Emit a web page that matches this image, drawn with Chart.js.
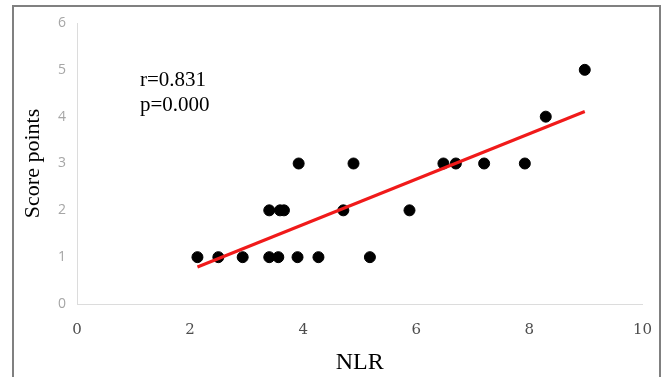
<!DOCTYPE html>
<html>
<head>
<meta charset="utf-8">
<script src="https://cdn.jsdelivr.net/npm/chart.js@4.4.1/dist/chart.umd.min.js"></script>
<style>
    body { margin: 0; background: #fff; }
    #wrap { position: relative; width: 661px; height: 377px; }
    #frame { position: absolute; left: 12px; top: 5px; width: 645px; height: 372px;
             border: 2px solid #808080; border-bottom: none; pointer-events: none; }
</style>
</head>
<body>
<div id="wrap">
    <canvas id="scatter-chart" width="661" height="377"></canvas>
    <div id="frame"></div>
</div>
<script>
// NLR vs score points
var nlr = [2.13, 2.50, 2.93, 3.40, 3.56, 3.90, 4.27, 5.18,
           3.40, 3.59, 3.66, 4.71, 5.88,
           3.92, 4.89, 6.48, 6.70, 7.20, 7.92,
           8.29, 8.98];
var score = [1, 1, 1, 1, 1, 1, 1, 1,
             2, 2, 2, 2, 2,
             3, 3, 3, 3, 3, 3,
             4, 5];
// fitted line end points as drawn in the figure
var fitX = [2.13, 8.98];
var fitY = [0.79, 4.11];
var notes = ["r=0.831", "p=0.000"];

var statsText = {
    id: 'statsText',
    afterDraw: function (chart) {
        var ctx = chart.ctx;
        ctx.save();
        ctx.fillStyle = '#000';
        ctx.font = '21px "Liberation Serif", serif';
        ctx.textBaseline = 'alphabetic';
        ctx.fillText(notes[0], 140, 86);
        ctx.fillText(notes[1], 140, 111);
        ctx.restore();
    }
};

new Chart(document.getElementById("scatter-chart").getContext("2d"), {
    type: 'scatter',
    data: {
        datasets: [
            {
                label: "Fit",
                type: 'line',
                data: fitX.map(function (x, i) { return {x: x, y: fitY[i]}; }),
                borderColor: '#f01a1a',
                borderWidth: 3,
                pointRadius: 0,
                fill: false
            },
            {
                label: "Patients",
                data: nlr.map(function (x, i) { return {x: x, y: score[i]}; }),
                backgroundColor: '#000',
                borderColor: '#000',
                pointRadius: 5.5,
                pointHoverRadius: 5.5
            }
        ]
    },
    options: {
        responsive: false,
        animation: false,
        layout: {padding: {top: 23, right: 15, left: 0, bottom: 0}},
        plugins: {
            legend: {display: false},
            tooltip: {enabled: false}
        },
        scales: {
            x: {
                type: 'linear',
                min: 0, max: 10,
                afterFit: function (s) { s.height = 73; },
                ticks: {
                    stepSize: 2, padding: 9, maxRotation: 0,
                    color: '#4d4d4d',
                    font: {family: '"DejaVu Serif", serif', size: 15}
                },
                grid: {display: false},
                border: {color: '#dcdcdc', width: 1},
                title: {
                    display: true, text: 'NLR', color: '#000',
                    font: {family: '"Liberation Serif", serif', size: 24},
                    padding: {top: 0, bottom: 0}
                }
            },
            y: {
                min: 0, max: 6,
                afterFit: function (s) { s.width = 77; },
                ticks: {
                    stepSize: 1, padding: 3,
                    color: '#a6a6a6',
                    font: {family: '"Open Sans", sans-serif', size: 14}
                },
                grid: {display: false},
                border: {color: '#dcdcdc', width: 1},
                title: {
                    display: true, text: 'Score points', color: '#000',
                    font: {family: '"Liberation Serif", serif', size: 22},
                    padding: {top: 20, bottom: 0}
                }
            }
        }
    },
    plugins: [statsText]
});
</script>
</body>
</html>
